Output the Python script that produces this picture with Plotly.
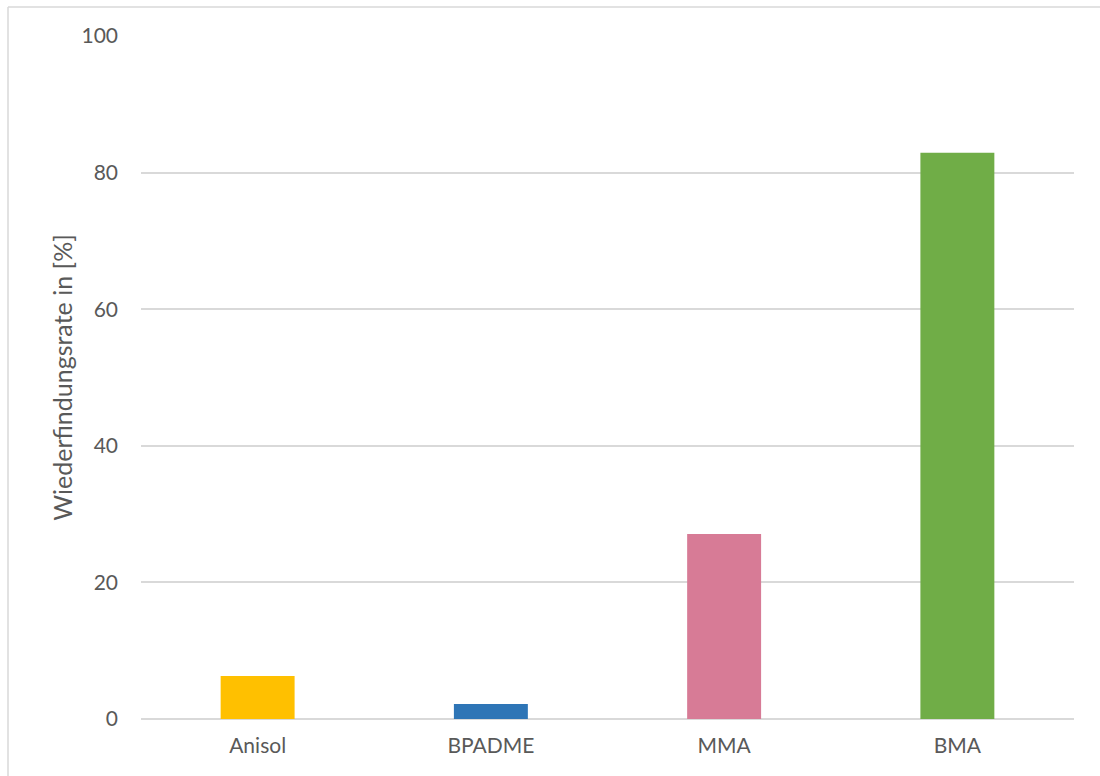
import plotly.graph_objects as go

# Recovery rates per substance
categories = ["Anisol", "BPADME", "MMA", "BMA"]
recovery = [6.3, 2.2, 27.1, 82.9]
bar_colors = ["#FFC000", "#2E75B6", "#D77B96", "#70AD47"]
y_ticks = [0, 20, 40, 60, 80, 100]

W, H = 1100, 776
L, R, T, B = 141, 26, 36, 57
pw, ph = W - L - R, H - T - B

def px_x(p):
    return (p - L) / pw

def px_y(p):
    return (H - B - p) / ph

fig = go.Figure(
    go.Bar(
        x=categories,
        y=recovery,
        marker=dict(color=bar_colors, line=dict(width=0)),
        hoverinfo="x+y",
    )
)

font_family = "Lato, 'Open Sans', sans-serif"
text_color = "#595959"

fig.update_layout(
    width=W,
    height=H,
    margin=dict(l=L, r=R, t=T, b=B, autoexpand=False),
    paper_bgcolor="white",
    plot_bgcolor="white",
    bargap=0.683,
    showlegend=False,
    font=dict(family=font_family, size=21, color=text_color),
    xaxis=dict(
        showgrid=False,
        showline=False,
        zeroline=False,
        ticks="",
        ticklabelstandoff=12,
        tickfont=dict(size=21, color=text_color),
    ),
    yaxis=dict(
        range=[0, 100],
        tickvals=y_ticks,
        showgrid=True,
        gridcolor="#D9D9D9",
        gridwidth=1.5,
        zeroline=True,
        zerolinecolor="#D9D9D9",
        zerolinewidth=1.5,
        showline=False,
        ticks="",
        ticklabelstandoff=22,
        tickfont=dict(size=21, color=text_color),
        title=dict(
            text="Wiederfindungsrate in [%]",
            font=dict(size=25, color=text_color),
            standoff=1,
        ),
    ),
    shapes=[
        dict(type="line", xref="paper", yref="paper",
             x0=px_x(8), x1=px_x(8), y0=px_y(7), y1=px_y(H + 5),
             line=dict(color="#D9D9D9", width=1.5)),
        dict(type="line", xref="paper", yref="paper",
             x0=px_x(8), x1=px_x(W + 5), y0=px_y(7), y1=px_y(7),
             line=dict(color="#D9D9D9", width=1.5)),
    ],
)

fig.write_html("out.html")
